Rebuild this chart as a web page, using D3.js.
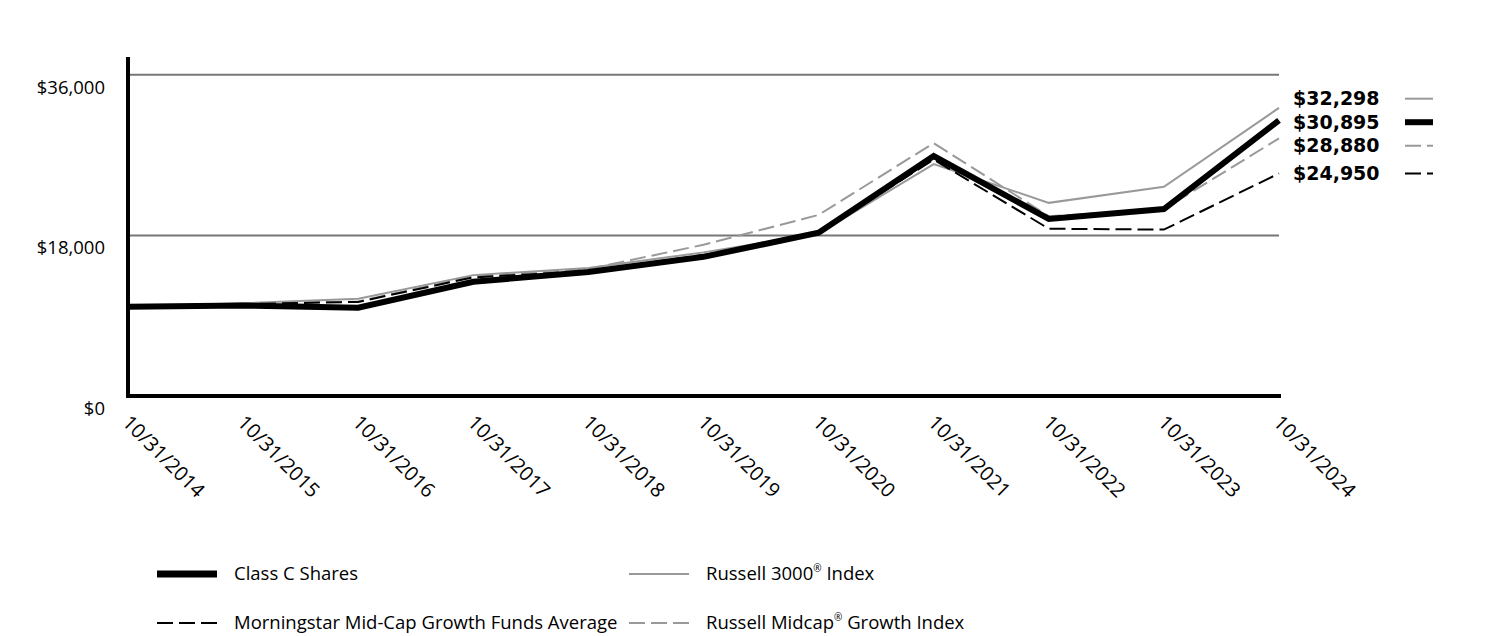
<!DOCTYPE html>
<html>
<head>
<meta charset="utf-8">
<script src="https://cdn.jsdelivr.net/npm/d3@7"></script>
<style>
  html, body { margin: 0; padding: 0; background: #fff; }
  svg { display: block; }
  text { font-family: "Open Sans", Lato, sans-serif; }
  text.endlabel { font-family: "DejaVu Sans", sans-serif; font-weight: 700; }
</style>
</head>
<body>
<svg id="chart" width="1512" height="636"></svg>
<script>
// ---- Data ----
const dates = ["10/31/2014","10/31/2015","10/31/2016","10/31/2017","10/31/2018","10/31/2019","10/31/2020","10/31/2021","10/31/2022","10/31/2023","10/31/2024"];
const classC      = [10000, 10150, 9900, 12800, 13900, 15600, 18300, 26900, 19850, 20950, 30895];
const russell3000 = [10000, 10400, 10900, 13550, 14350, 16100, 18200, 26000, 21650, 23450, 32298];
const morningstar = [10000, 10300, 10550, 13300, 14000, 15800, 18300, 26500, 18750, 18650, 24950];
const midcapGrowth= [10000, 10350, 10600, 13450, 14250, 16950, 20300, 28350, 20150, 20950, 28880];
const yTicks = [0, 18000, 36000];
const endLabels = ["$32,298", "$30,895", "$28,880", "$24,950"];

const series = [
  { name: "Class C Shares", values: classC, color: "#000", width: 6, dash: null, legendWidth: 7 },
  { name: "Russell 3000® Index", values: russell3000, color: "#999", width: 2, dash: null, legendWidth: 2 },
  { name: "Morningstar Mid-Cap Growth Funds Average", values: morningstar, color: "#000", width: 2, dash: "16,6", legendWidth: 2 },
  { name: "Russell Midcap® Growth Index", values: midcapGrowth, color: "#999", width: 2, dash: "16,6", legendWidth: 2 }
];

const svg = d3.select("#chart");
const x = d3.scalePoint().domain(dates).range([128, 1279]);
const y = d3.scaleLinear().domain([0, 38000]).range([396, 57]);

// gridlines
svg.append("g").selectAll("line").data(yTicks.filter(d => d > 0)).join("line")
  .attr("x1", 128).attr("x2", 1279)
  .attr("y1", d => y(d)).attr("y2", d => y(d))
  .attr("stroke", "#777").attr("stroke-width", 2);

// y labels
svg.append("g").selectAll("text").data(yTicks).join("text")
  .attr("x", 105).attr("y", d => y(d) + 14)
  .attr("text-anchor", "end").attr("dominant-baseline", "middle")
  .attr("font-size", 18.5).attr("fill", "#000")
  .text(d => "$" + d3.format(",")(d));

// x labels
svg.append("g").selectAll("text").data(dates).join("text")
  .attr("transform", d => `translate(${x(d) - 3},${420}) rotate(45)`)
  .attr("text-anchor", "start").attr("dominant-baseline", "middle")
  .attr("font-size", 20).attr("fill", "#000")
  .text(d => d);

// lines (draw back to front)
const line = d3.line().x((d, i) => x(dates[i])).y(d => y(d));
const drawOrder = [1, 3, 2, 0];
drawOrder.forEach(k => {
  const s = series[k];
  svg.append("path").datum(s.values)
    .attr("d", line).attr("fill", "none")
    .attr("stroke", s.color).attr("stroke-width", s.width)
    .attr("stroke-dasharray", s.dash)
    .attr("stroke-linejoin", "miter");
});

// axes
svg.append("line").attr("x1", 128).attr("x2", 128).attr("y1", 57).attr("y2", 398)
  .attr("stroke", "#000").attr("stroke-width", 4);
svg.append("line").attr("x1", 126).attr("x2", 1281).attr("y1", 396).attr("y2", 396)
  .attr("stroke", "#000").attr("stroke-width", 4);

// end labels with overlap relaxation
const last = dates.length - 1;
const labelOrder = [1, 0, 3, 2]; // series index sorted by end value desc
const items = labelOrder.map((k, i) => ({ s: series[k], label: endLabels[i], target: y(series[k].values[last]) }));
const gap = 23.5;
let clusters = items.map(it => ({ items: [it] }));
function clusterTop(c) {
  const n = c.items.length;
  return d3.mean(c.items, d => d.target) - (n - 1) * gap / 2;
}
let merged = true;
while (merged) {
  merged = false;
  for (let i = 0; i < clusters.length - 1; i++) {
    const a = clusters[i], b = clusters[i + 1];
    const aBottom = clusterTop(a) + (a.items.length - 1) * gap;
    if (clusterTop(b) - aBottom < gap) {
      clusters.splice(i, 2, { items: a.items.concat(b.items) });
      merged = true;
      break;
    }
  }
}
clusters.forEach(c => {
  const top = clusterTop(c);
  c.items.forEach((it, j) => it.pos = top + j * gap);
});

const lg = svg.append("g");
items.forEach(it => {
  lg.append("text").attr("class", "endlabel").attr("x", 1293).attr("y", it.pos + 1)
    .attr("dominant-baseline", "middle")
    .attr("font-size", 19).attr("fill", "#000")
    .text(it.label);
  lg.append("line").attr("x1", 1405).attr("x2", 1433)
    .attr("y1", it.pos).attr("y2", it.pos)
    .attr("stroke", it.s.color).attr("stroke-width", it.s.width === 6 ? 6 : 2)
    .attr("stroke-dasharray", it.s.dash ? "16,6" : null);
});

// legend
const legendPos = [
  { x: 157, y: 575 }, { x: 629, y: 575 },
  { x: 157, y: 624 }, { x: 629, y: 624 }
];
series.forEach((s, i) => {
  const p = legendPos[i];
  svg.append("line").attr("x1", p.x).attr("x2", p.x + 60)
    .attr("y1", p.y - 1).attr("y2", p.y - 1)
    .attr("stroke", s.color).attr("stroke-width", s.legendWidth)
    .attr("stroke-dasharray", s.dash);
  const t = svg.append("text").attr("x", p.x + 77).attr("y", p.y)
    .attr("dominant-baseline", "middle").attr("font-size", 18.5).attr("fill", "#000");
  const parts = s.name.split("®");
  t.append("tspan").text(parts[0]);
  if (parts.length > 1) {
    t.append("tspan").attr("font-size", 10).attr("dy", -6).text("®");
    t.append("tspan").attr("dy", 6).text(parts[1]);
  }
});
</script>
</body>
</html>
